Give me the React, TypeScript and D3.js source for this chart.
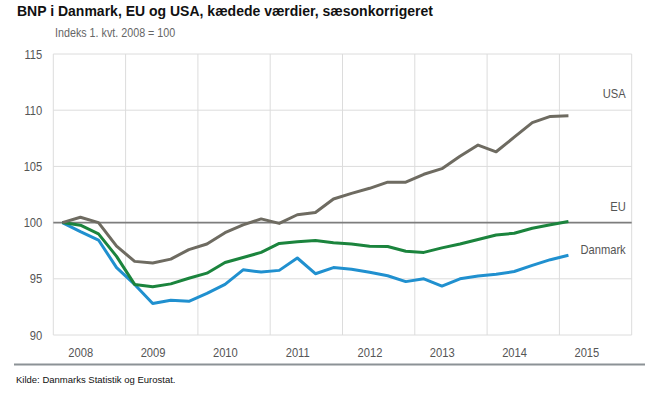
import React, { useEffect, useRef } from 'react';
import * as d3 from 'd3';

// Quarterly index, 1. kvt. 2008 = 100 (2008K1 .. 2015K1)
const startYear = 2008;
const yearLabels = [2008, 2009, 2010, 2011, 2012, 2013, 2014, 2015];
const yTicks = [90, 95, 100, 105, 110, 115];

const usa = [
  100, 100.48, 100, 97.9, 96.55, 96.4, 96.75, 97.6, 98.1, 99.1, 99.8, 100.33, 99.93, 100.7, 100.9,
  102.1, 102.6, 103.05, 103.6, 103.6, 104.3, 104.8, 105.9, 106.9, 106.3, 107.6, 108.9, 109.45, 109.5,
];
const eu = [
  100, 99.77, 99.0, 97.0, 94.5, 94.3, 94.55, 95.05, 95.5, 96.45, 96.9, 97.35, 98.15, 98.3, 98.4,
  98.2, 98.1, 97.9, 97.87, 97.45, 97.35, 97.75, 98.1, 98.5, 98.9, 99.05, 99.5, 99.8, 100.1,
];
const danmark = [
  100, 99.2, 98.45, 96.0, 94.5, 92.8, 93.1, 93.0, 93.7, 94.5, 95.8, 95.6, 95.75, 96.85, 95.45,
  96.0, 95.85, 95.58, 95.27, 94.75, 95.0, 94.35, 95.0, 95.24, 95.4, 95.65, 96.2, 96.7, 97.1,
];

const series = [
  { name: 'USA', values: usa, color: '#6e6b61' },
  { name: 'EU', values: eu, color: '#1b843d' },
  { name: 'Danmark', values: danmark, color: '#2090cf' },
];

const seriesLabels = [
  { name: 'USA', value: 111.1 },
  { name: 'EU', value: 101.0 },
  { name: 'Danmark', value: 97.2 },
];

const font = '"Liberation Sans", Arial, sans-serif';
const squeeze = 0.86; // the original uses a condensed face for axis text

export default function App() {
  const svgRef = useRef<SVGSVGElement | null>(null);

  useEffect(() => {
    const width = 659;
    const height = 396;
    const margin = { top: 54, right: 27.3, bottom: 61, left: 53.3 };
    const innerW = width - margin.left - margin.right;
    const innerH = height - margin.top - margin.bottom;

    const svg = d3.select(svgRef.current).attr('width', width).attr('height', height);
    svg.selectAll('*').remove();
    svg.append('rect').attr('width', width).attr('height', height).attr('fill', '#fff');

    const g = svg.append('g').attr('transform', `translate(${margin.left},${margin.top})`);

    const x = d3.scaleLinear().domain([startYear, startYear + 8]).range([0, innerW]);
    const y = d3.scaleLinear().domain([90, 115]).range([innerH, 0]);

    // condensed text: anchor at (px,py), squeeze horizontally
    const narrowText = (parent, px: number, py: number, txt: string, anchor: string, size = 13, fill = '#555') =>
      parent.append('text')
        .attr('transform', `translate(${px},${py}) scale(${squeeze},1)`)
        .attr('text-anchor', anchor).attr('fill', fill)
        .attr('font-size', `${size}px`).attr('font-family', font)
        .text(txt);

    // Grid
    g.append('g').selectAll('line').data(yTicks.filter(t => t !== 100)).join('line')
      .attr('x1', 0).attr('x2', innerW).attr('y1', d => y(d)).attr('y2', d => y(d))
      .attr('stroke', '#dcdcdc').attr('stroke-width', 1);
    g.append('g').selectAll('line').data(d3.range(startYear, startYear + 9)).join('line')
      .attr('x1', d => x(d)).attr('x2', d => x(d)).attr('y1', 0).attr('y2', innerH)
      .attr('stroke', '#dcdcdc').attr('stroke-width', 1);

    // Reference line at 100
    g.append('line').attr('x1', 0).attr('x2', innerW).attr('y1', y(100)).attr('y2', y(100))
      .attr('stroke', '#7d7d7d').attr('stroke-width', 1.6);

    // Axis labels
    yTicks.forEach(t => narrowText(g, -11, y(t) + 4.5, String(t), 'end'));
    yearLabels.forEach(yr => narrowText(g, x(yr + 0.38), innerH + 22, String(yr), 'middle'));

    // Lines
    const line = d3.line<number>()
      .x((d, i) => x(startYear + (i + 0.5) / 4))
      .y(d => y(d));
    [...series].reverse().forEach(s => {
      g.append('path').datum(s.values).attr('d', line)
        .attr('fill', 'none').attr('stroke', s.color).attr('stroke-width', 3)
        .attr('stroke-linejoin', 'round');
    });

    // Series labels
    seriesLabels.forEach(l => narrowText(g, innerW - 6, y(l.value), l.name, 'end'));

    // Title + subtitle
    svg.append('text').attr('x', 17).attr('y', 16)
      .attr('font-family', font).attr('font-weight', 'bold').attr('font-size', '14px')
      .attr('fill', '#111').text('BNP i Danmark, EU og USA, kædede værdier, sæsonkorrigeret');
    narrowText(svg, 55, 37, 'Indeks 1. kvt. 2008 = 100', 'start', 12.5, '#666');

    // Footer
    svg.append('line').attr('x1', 14).attr('x2', 645).attr('y1', 364.5).attr('y2', 364.5)
      .attr('stroke', '#8c9296').attr('stroke-width', 2);
    svg.append('text').attr('x', 16).attr('y', 383)
      .attr('font-family', font).attr('font-size', '9.5px')
      .attr('fill', '#111').text('Kilde: Danmarks Statistik og Eurostat.');
  }, []);

  return (
    <div style={{ position: 'fixed', left: 0, top: 0 }}>
      <svg ref={svgRef} style={{ display: 'block' }} />
    </div>
  );
}
